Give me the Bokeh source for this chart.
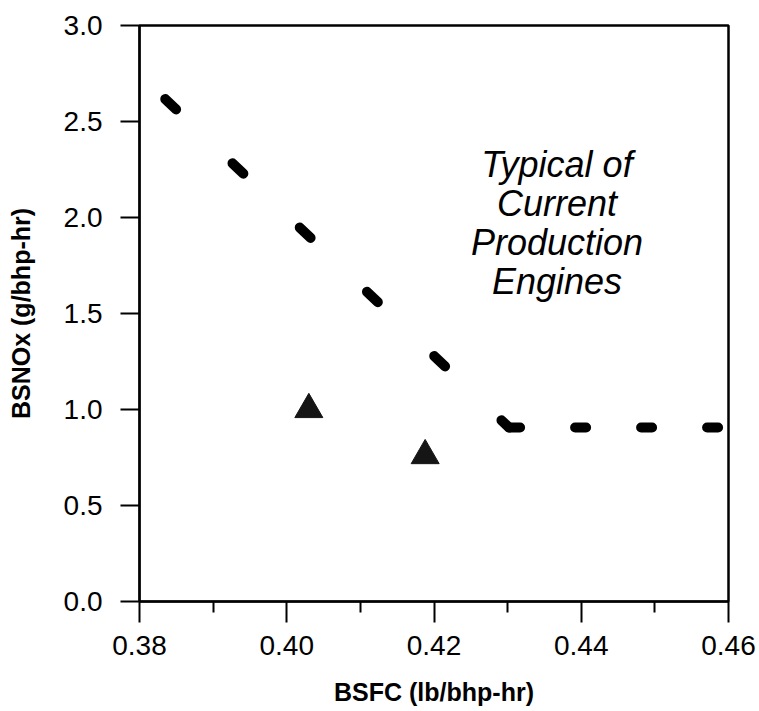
from bokeh.plotting import figure
from bokeh.models import Label, FixedTicker, PrintfTickFormatter
from bokeh.embed import file_html
from bokeh.resources import INLINE

# ---- data ----
curve_bsfc = [0.3835, 0.4302, 0.4586]
curve_bsnox = [2.617, 0.906, 0.906]
tri_bsfc = [0.4030, 0.4188]
tri_bsnox = [1.00, 0.76]
annotation_lines = ["Typical of", "Current", "Production", "Engines"]
x_ticks = [0.38, 0.40, 0.42, 0.44, 0.46]
x_minor_ticks = [0.39, 0.41, 0.43, 0.45]
y_ticks = [0.0, 0.5, 1.0, 1.5, 2.0, 2.5, 3.0]

FONT = "Liberation Sans"

p = figure(width=759, height=711, x_range=(0.38, 0.46), y_range=(0.0, 3.0),
           output_backend="svg", toolbar_location=None,
           min_border_left=139, min_border_right=31, min_border_top=25,
           min_border_bottom=110,
           x_axis_label="BSFC (lb/bhp-hr)", y_axis_label="BSNOx (g/bhp-hr)")

p.background_fill_color = "white"
p.border_fill_color = "white"
p.outline_line_color = "black"
p.outline_line_width = 2.5
p.xgrid.visible = False
p.ygrid.visible = False

# x axis
xa = p.xaxis[0]
xa.ticker = FixedTicker(ticks=x_ticks, minor_ticks=x_minor_ticks)
xa.formatter = PrintfTickFormatter(format="%.2f")
xa.major_tick_out = 21
xa.major_tick_in = 0
xa.minor_tick_out = 11
xa.minor_tick_in = 0
xa.major_tick_line_width = 2
xa.minor_tick_line_width = 2
xa.axis_line_width = 2
xa.major_label_text_font = FONT
xa.major_label_text_font_size = "28px"
xa.major_label_text_color = "black"
xa.major_label_standoff = 13
xa.axis_label_text_font = FONT
xa.axis_label_text_font_style = "bold"
xa.axis_label_text_font_size = "25px"
xa.axis_label_text_color = "black"
xa.axis_label_standoff = 20

# y axis
ya = p.yaxis[0]
ya.ticker = FixedTicker(ticks=y_ticks, minor_ticks=[])
ya.formatter = PrintfTickFormatter(format="%.1f")
ya.major_tick_out = 19
ya.major_tick_in = 0
ya.minor_tick_out = 0
ya.minor_tick_in = 0
ya.major_tick_line_width = 2
ya.axis_line_width = 2
ya.major_label_text_font = FONT
ya.major_label_text_font_size = "28px"
ya.major_label_text_color = "black"
ya.major_label_standoff = 18
ya.axis_label_text_font = FONT
ya.axis_label_text_font_style = "bold"
ya.axis_label_text_font_size = "25px"
ya.axis_label_text_color = "black"
ya.axis_label_standoff = 26

# dashed production-engine curve: sloped part and flat part
p.line(curve_bsfc[:2], curve_bsnox[:2], line_color="black", line_width=10,
       line_dash="15 78", line_cap="round")
p.line(curve_bsfc[1:], curve_bsnox[1:], line_color="black", line_width=10,
       line_dash="11 55", line_cap="round")

# triangles
p.scatter(tri_bsfc, tri_bsnox, marker="triangle", size=28,
          fill_color="#151515", line_color="#151515")

# annotation
for i, t in enumerate(annotation_lines):
    p.add_layout(Label(x=0.4367, y=2.276 - i * 0.203, text=t,
                       text_align="center", text_baseline="alphabetic",
                       text_font=FONT, text_font_style="italic",
                       text_font_size="36px", text_color="black"))

open("out.html", "w").write(file_html(p, INLINE))
